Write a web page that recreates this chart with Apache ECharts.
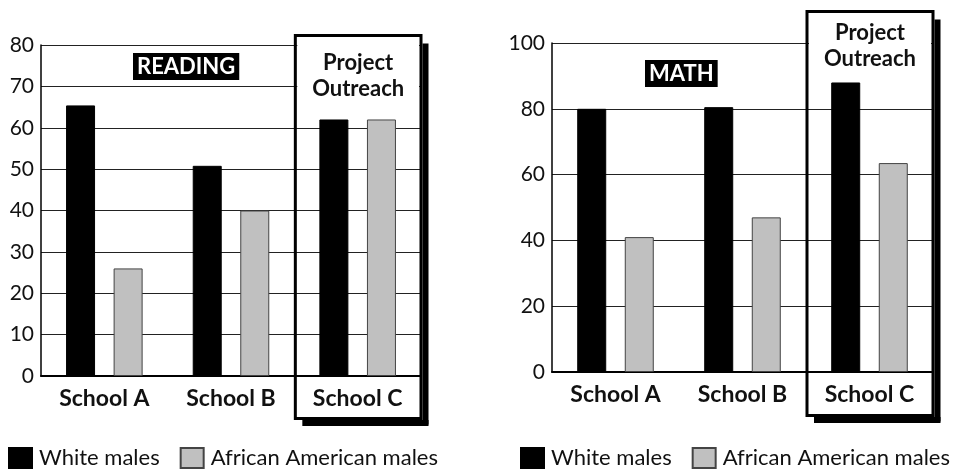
<!DOCTYPE html>
<html>
<head>
<meta charset="utf-8">
<script src="https://cdn.jsdelivr.net/npm/echarts@6/dist/echarts.min.js"></script>
<style>
  html, body { margin: 0; padding: 0; background: #fff; }
  #chart { width: 961px; height: 470px; }
</style>
</head>
<body>
<div id="chart"></div>
<script>
  // data
  var schools = ['School A', 'School B', 'School C'];
  var seriesNames = ['White males', 'African American males'];
  var readingWhite = [65.4, 50.8, 62];
  var readingBlack = [26, 40, 62];
  var mathWhite = [80, 80.5, 88];
  var mathBlack = [41, 47, 63.5];

  var FONT = 'Lato';
  var gridL = { left: 41, top: 45, width: 380, height: 331 };
  var gridR = { left: 552, top: 43, width: 381, height: 329 };

  function xAxis(idx) {
    return {
      type: 'category', gridIndex: idx, data: schools,
      axisLine: { lineStyle: { color: '#000', width: 2 } },
      axisTick: { inside: true, length: 8, lineStyle: { color: '#000', width: 1.5 } },
      axisLabel: { color: '#111', fontFamily: FONT, fontWeight: 'bold', fontSize: 23, margin: 11 }
    };
  }
  function yAxis(idx, max, step) {
    return {
      type: 'value', gridIndex: idx, min: 0, max: max, interval: step,
      axisLine: { show: true, lineStyle: { color: '#000', width: 1.5 } },
      axisTick: { show: false },
      axisLabel: { color: '#111', fontFamily: FONT, fontSize: 21, margin: 7 },
      splitLine: { lineStyle: { color: '#222', width: 1 } }
    };
  }
  function bars(name, idx, data, color) {
    return {
      name: name, type: 'bar', xAxisIndex: idx, yAxisIndex: idx, data: data,
      barWidth: 29, barGap: '64%',
      itemStyle: { color: color, borderColor: color === '#000' ? '#000' : '#444', borderWidth: 1 }
    };
  }
  function legend(left) {
    return {
      left: left, top: 442, data: seriesNames, selectedMode: false,
      itemWidth: 23, itemHeight: 20, itemGap: 20, icon: 'rect',
      textStyle: { fontFamily: FONT, fontSize: 22, color: '#111', padding: [0, 0, 0, 2] }
    };
  }
  // "Project Outreach" box around School C
  function outreachBox(g, top, bottom, coverH, textY) {
    var x0 = g.left + g.width * 2 / 3 + 1, x1 = g.left + g.width;
    return [
      { type: 'rect', z: 1, shape: { x: x0 + 2, y: top + 2, width: x1 - x0 - 4, height: coverH }, style: { fill: '#fff' } },
      { type: 'rect', z: 5, shape: { x: x0, y: top, width: x1 - x0, height: bottom - top }, style: { fill: null, stroke: '#000', lineWidth: 3 } },
      { type: 'rect', z: 5, shape: { x: x1 + 1.5, y: top + 8, width: 6, height: bottom - top - 2 }, style: { fill: '#000' } },
      { type: 'rect', z: 5, shape: { x: x0 + 7, y: bottom + 1.5, width: x1 - x0 + 0.5, height: 6 }, style: { fill: '#000' } },
      { type: 'text', z: 6, style: { text: 'Project\nOutreach', x: (x0 + x1) / 2, y: textY, textAlign: 'center', textVerticalAlign: 'middle',
        font: 'bold 22px ' + FONT, lineHeight: 26, fill: '#111' } }
    ];
  }
  function tag(text, left, top) {
    return {
      text: text, left: left, top: top, padding: [2, 4],
      backgroundColor: '#000',
      textStyle: { color: '#fff', fontFamily: FONT, fontWeight: 'bold', fontSize: 22, lineHeight: 23 }
    };
  }

  var myChart = echarts.init(document.getElementById('chart'));
  myChart.setOption({
    animation: false,
    title: [tag('READING', 133, 53), tag('MATH', 645, 60)],
    legend: [legend(3), legend(515)],
    grid: [gridL, gridR],
    xAxis: [xAxis(0), xAxis(1)],
    yAxis: [yAxis(0, 80, 10), yAxis(1, 100, 20)],
    series: [
      bars(seriesNames[0], 0, readingWhite, '#000'),
      bars(seriesNames[1], 0, readingBlack, '#c0c0c0'),
      bars(seriesNames[0], 1, mathWhite, '#000'),
      bars(seriesNames[1], 1, mathBlack, '#c0c0c0')
    ],
    graphic: outreachBox(gridL, 35.5, 418.5, 68, 76).concat(outreachBox(gridR, 11.5, 415.5, 62, 46))
  });
</script>
</body>
</html>
